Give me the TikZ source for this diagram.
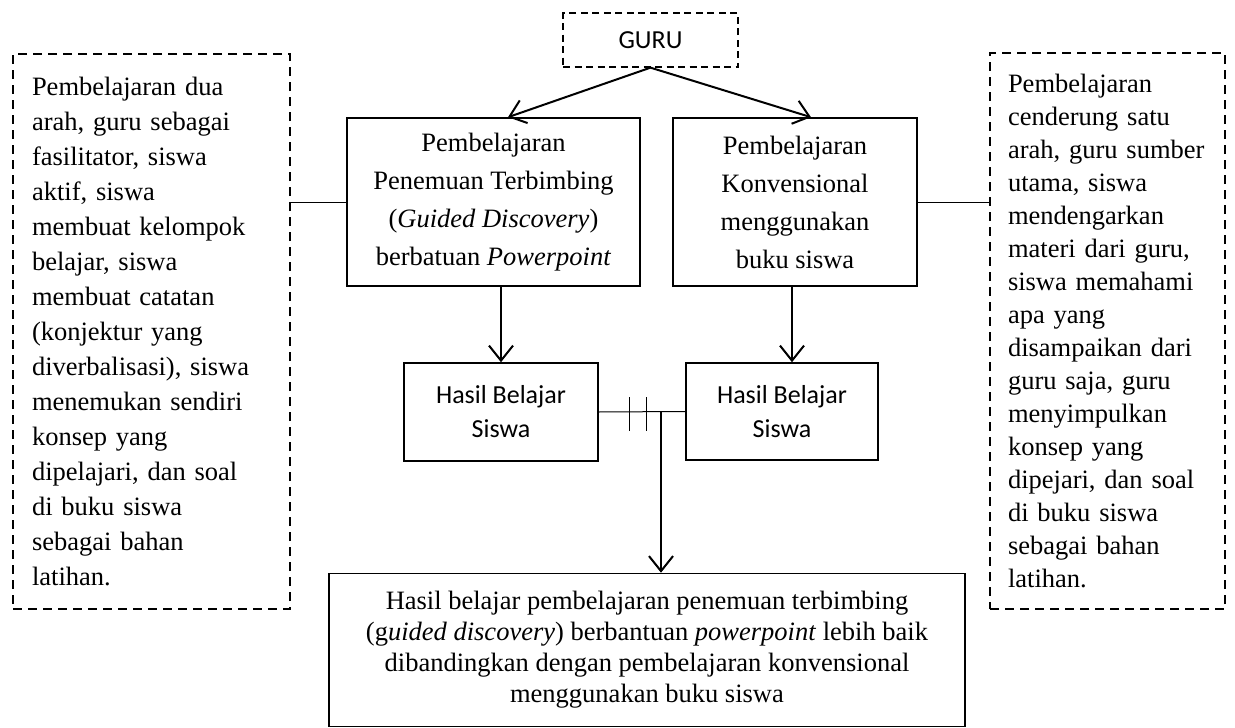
\documentclass[tikz,border=0pt]{standalone}
\usepackage{fontspec}
\setmainfont{Liberation Serif}
\newfontfamily\carlito{Carlito}
\usetikzlibrary{arrows.meta,calc}
\begin{document}
\begin{tikzpicture}[x=1pt,y=-1pt,
  box/.style={draw, line width=1.6pt, inner sep=0pt, align=center},
  dbox/.style={draw, line width=2.2pt, dash pattern=on 9pt off 6pt, inner ysep=0pt},
  serif/.style={font=\fontsize{26.5}{38}\selectfont},
  sans/.style={font=\carlito\fontsize{26}{34}\selectfont},
  arr/.style={-{Straight Barb[length=15pt,width=24pt,line width=2pt]}, line width=2pt},
  thinline/.style={line width=1pt}]
\useasboundingbox (0,0) rectangle (1235,728);

\node[draw, line width=1.3pt, dash pattern=on 7pt off 4.5pt, inner sep=0pt,
      minimum width=175pt, minimum height=54pt, sans] (guru) at (650.5,40) {GURU};

\node[box, serif, minimum width=293pt, minimum height=168pt] (pt) at (493.5,202)
  {Pembelajaran\\Penemuan Terbimbing\\(\textit{Guided Discovery})\\berbatuan \textit{Powerpoint}};
\node[box, serif, minimum width=244pt, minimum height=168pt] (kv) at (795,202)
  {Pembelajaran\\Konvensional\\menggunakan\\buku siswa};

\node[box, sans, minimum width=194pt, minimum height=98pt] (hl) at (501,412) {Hasil Belajar\\Siswa};
\node[box, sans, minimum width=192pt, minimum height=97pt] (hr) at (782,411.5) {Hasil Belajar\\Siswa};

\node[box, font=\fontsize{26.5}{31}\selectfont, minimum width=636pt, minimum height=153pt] (hasil) at (647,650)
  {Hasil belajar pembelajaran penemuan terbimbing\\(g\textit{uided discovery}) berbantuan \textit{powerpoint} lebih baik\\dibandingkan dengan pembelajaran konvensional\\menggunakan buku siswa};

\node[dbox, minimum width=277pt, minimum height=555pt, text width=239pt, inner xsep=19pt,
      align=left, font=\fontsize{26.5}{35}\selectfont] (dl) at (151.5,331.5)
  {Pembelajaran dua\\arah, guru sebagai\\fasilitator, siswa\\aktif, siswa\\membuat kelompok\\belajar, siswa\\membuat catatan\\(konjektur yang\\diverbalisasi), siswa\\menemukan sendiri\\konsep yang\\dipelajari, dan soal\\di buku siswa\\sebagai bahan\\latihan.};

\node[dbox, minimum width=235pt, minimum height=556pt, text width=199pt, inner xsep=18pt,
      align=left, font=\fontsize{26.5}{33}\selectfont] (dr) at (1107.5,331)
  {Pembelajaran\\cenderung satu\\arah, guru sumber\\utama, siswa\\mendengarkan\\materi dari guru,\\siswa memahami\\apa yang\\disampaikan dari\\guru saja, guru\\menyimpulkan\\konsep yang\\dipejari, dan soal\\di buku siswa\\sebagai bahan\\latihan.};

\draw[arr] (guru.south) -- (pt.north -| 508,0);
\draw[arr] (guru.south) -- (kv.north -| 811,0);
\draw[arr] (pt.south -| hl.north) -- (hl.north);
\draw[arr] (kv.south -| 792,0) -- (hr.north -| 792,0);

\draw[thinline] (dl.east |- pt.west) -- (pt.west);
\draw[thinline] (kv.east) -- (dr.west |- kv.east);
\draw[thinline] (hl.east) -- (hr.west);
\draw[thinline] (629,397) -- (629,431);
\draw[thinline] (646,397) -- (646,431);

\coordinate (j) at (hl.east -| 661,0);
\draw[arr] (j) -- (hasil.north -| j);
\end{tikzpicture}
\end{document}
